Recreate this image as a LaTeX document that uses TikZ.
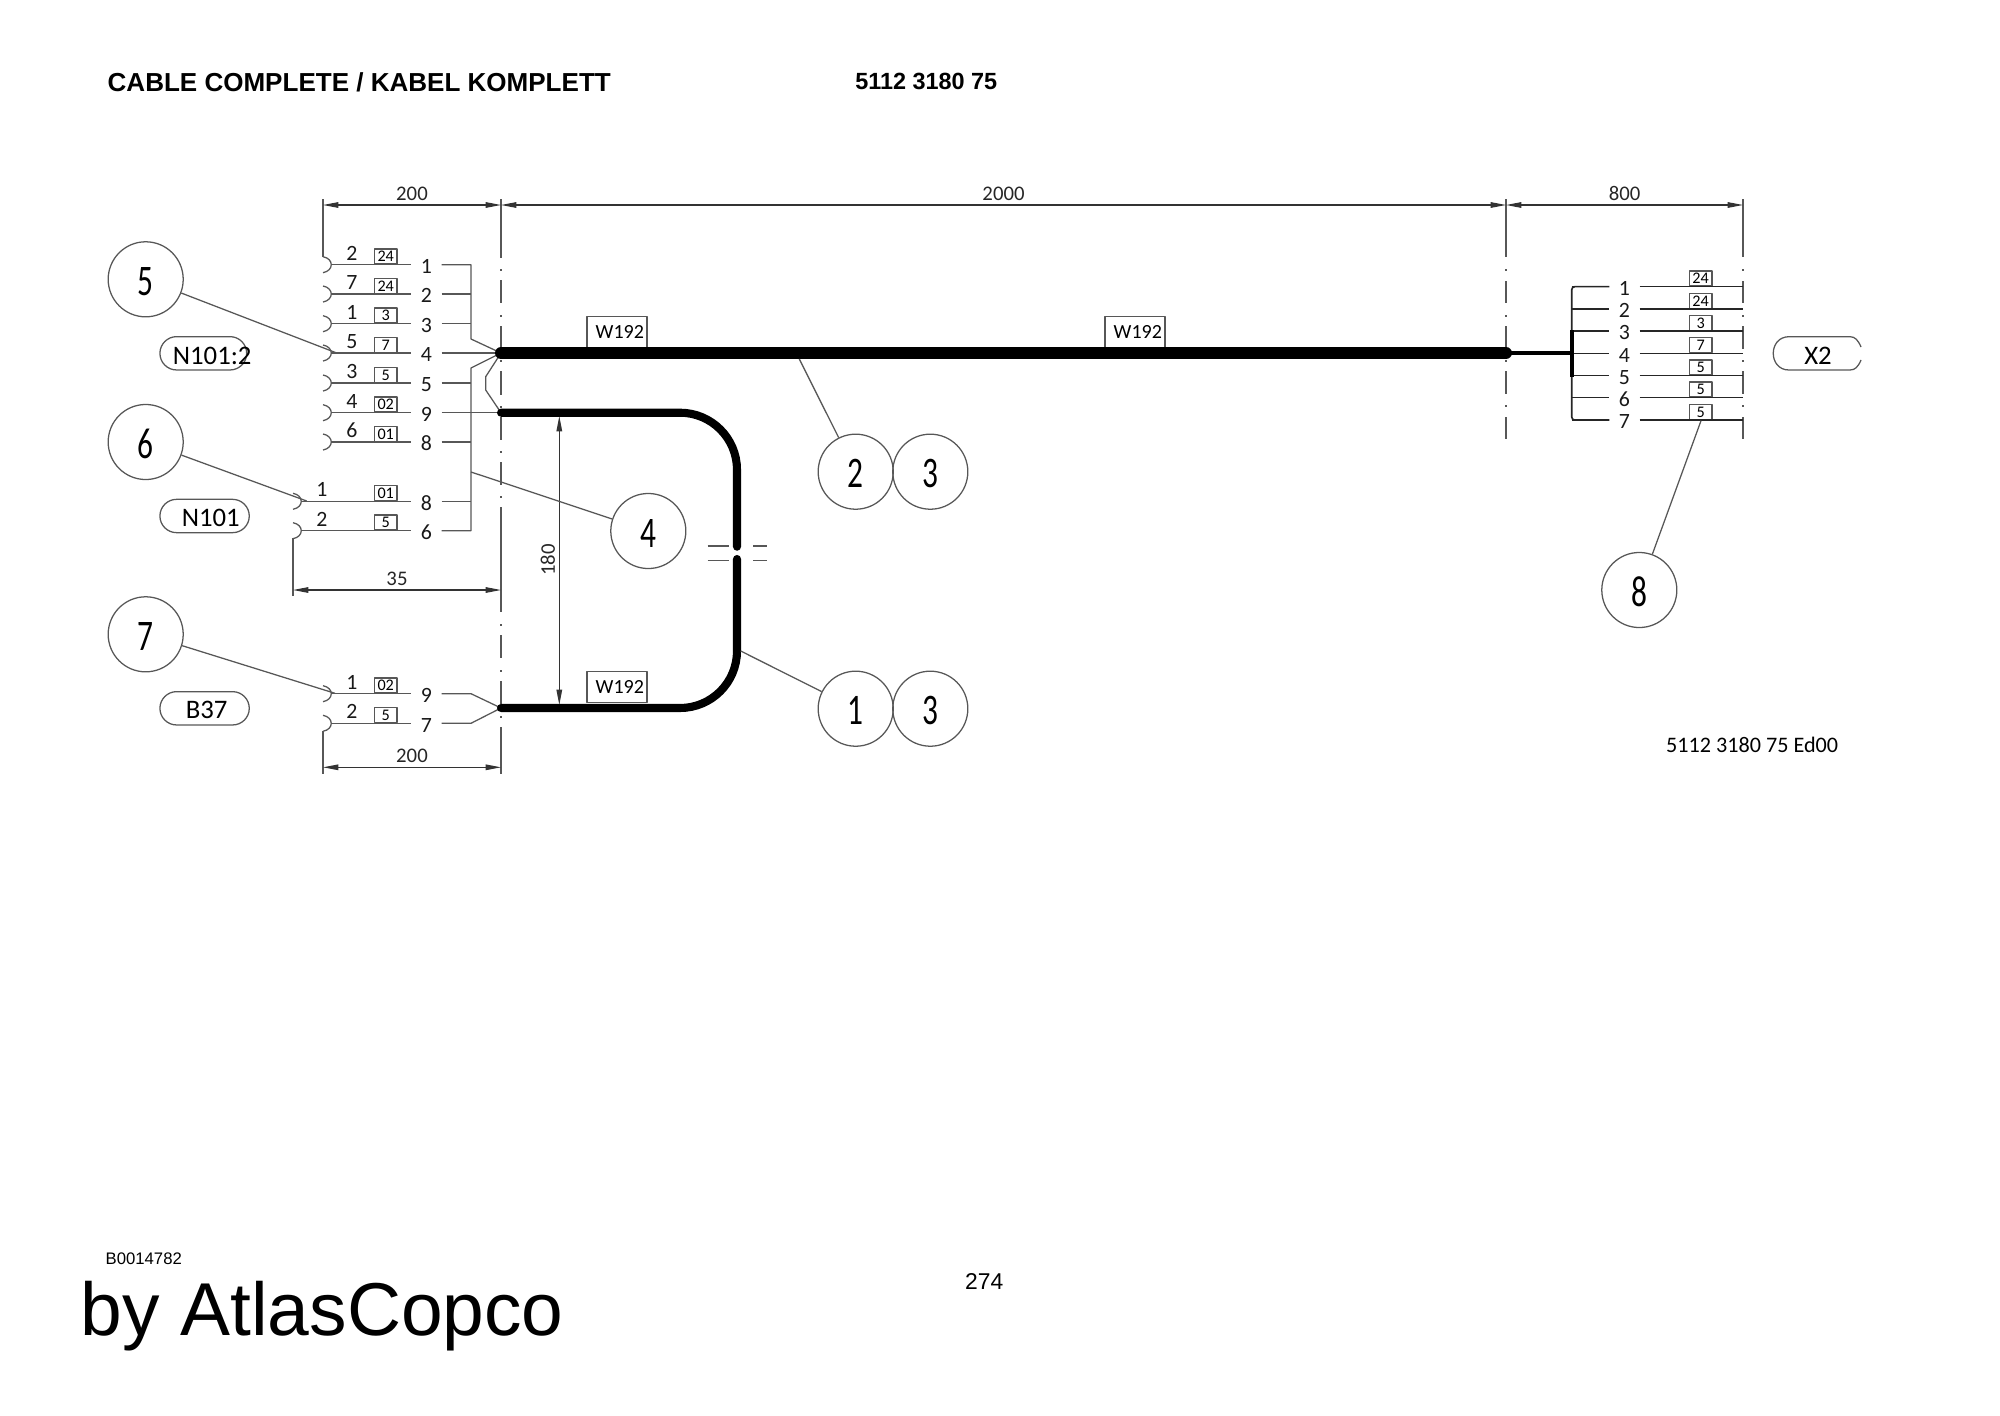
\documentclass[tikz,border=0pt]{standalone}
\usepackage{fontspec}
\setmainfont{Carlito}
\newfontfamily\arialfont{Liberation Sans}
\newfontfamily\narrowfont[FakeStretch=0.72]{Carlito}
\usetikzlibrary{arrows.meta,shapes.misc}
\colorlet{linegray}{black!66}
\tikzset{
	thinline/.style={draw=linegray, line width=0.36pt},
	rightline/.style={draw=black!85, line width=0.45pt},
	dimline/.style={draw=black!80, line width=0.3pt, {Triangle[length=4.4pt,width=1.6pt]}-{Triangle[length=4.4pt,width=1.6pt]}},
	dimtext/.style={font=\fontsize{5.9}{6}\selectfont, inner sep=0pt, text height=3.8pt, text depth=0pt, text=black!85},
	cable/.style={draw=black, line width=#1, line cap=round},
	balloon/.style={circle, thinline, minimum size=0.75cm, inner sep=0pt, text height=9.2pt, text depth=0pt, font=\narrowfont\fontsize{12.4}{12}\selectfont},
	wirenum/.style={minimum width=0.29cm, inner sep=0pt, text height=5pt, text depth=0pt, font=\fontsize{6.2}{6}\selectfont, text=black!90},
	pinnum/.style={inner sep=0pt, text height=4.3pt, text depth=0pt, font=\fontsize{6.2}{6}\selectfont, text=black!90},
	secbox/.style={rectangle, thinline, anchor=south, minimum width=0.227cm, minimum height=0.15cm, inner sep=0pt, font=\fontsize{4.6}{5}\selectfont},
	cablebox/.style={rectangle, thinline, anchor=south, minimum width=0.6cm, minimum height=0.31cm, inner sep=0pt, font=\fontsize{5.7}{6}\selectfont, execute at begin node=\hspace{1.6pt}},
	tagbox/.style={rounded rectangle, thinline, minimum height=0.333cm, inner sep=0pt},
	tagtext/.style={inner sep=0pt, text height=5pt, text depth=0pt, font=\fontsize{7.6}{8}\selectfont},
	pagetext/.style={anchor=base west, inner sep=0pt, text=black},
}
\begin{document}
\begin{tikzpicture}[x=0.01cm, y=-0.01cm, line join=round]
	\useasboundingbox (0,0) rectangle (2000,1415);
	\path
		(323,205) coordinate (DA)
		(501,205) coordinate (DB)
		(1506,205) coordinate (DC)
		(1743,205) coordinate (DD)
		(501,353) coordinate (CA)
		(1506,353) coordinate (CB)
		(1571.7,353) coordinate (CC)
		(501,412.7) coordinate (LA)
		(501,708) coordinate (LB)
		(737,412.7) coordinate (LC)
		(737,708) coordinate (LD)
		(737,546.7) coordinate (LE)
		(737,559) coordinate (LF)
	;
	% centre lines
	\foreach \ya/\yb in {199/258,280/303,326/349,371/395,417/440,462/485,507/612,635/658,681/704,727/774}
		\draw[thinline] (501,\ya)--(501,\yb);
	\foreach \ya in {269,315,360,406,451,496,624,670,716}
		\draw[thinline] (501,\ya)--(501,\ya+1.5);
	\foreach \xa in {1506,1743} {
		\foreach \ya/\yb in {199/257,281/303,326/349,371/394,417/439}
			\draw[thinline] (\xa,\ya)--(\xa,\yb);
		\foreach \ya in {269,315,360,405}
			\draw[thinline] (\xa,\ya)--(\xa,\ya+1.5);
	}
	% dimensions
	\draw[thinline] (DA)++(0,-6)--(323,257);
	\draw[thinline] (293,538)--(293,596);
	\draw[thinline] (323,731)--(323,774);
	\draw[dimline] (DA)--(DB) node[midway, above=1.1pt, dimtext] (dim200a) {200};
	\draw[dimline] (DB)--(DC) node[midway, above=1.1pt, dimtext] (dim2000) {2000};
	\draw[dimline] (DC)--(DD) node[midway, above=1.1pt, dimtext] (dim800) {800};
	\draw[dimline] (293,590)--(501,590) node[midway, above=1.1pt, dimtext] (dim35) {35};
	\draw[dimline] (323,767.3)--(501,767.3) node[midway, above=1.1pt, dimtext] (dim200b) {200};
	\draw[dimline] (559.3,416)--(559.3,705);
	\node[dimtext, rotate=90] (dim180) at (548.3,560) {180};
	% connector N101:2
	\foreach \y/\pn/\bx/\nn in {264.7/2/24/1, 294/7/24/2, 323.7/1/3/3, 353/5/7/4, 383/3/5/5, 412.7/4/02/9, 442/6/01/8} {
		\draw[thinline] (323,\y-8) .. controls (334,\y-6) and (334,\y+6) .. (323,\y+8);
		\coordinate (pa\nn) at (331,\y);
		\node[wirenum] (na\nn) at (426.5,\y) {\nn};
		\node[pinnum] at (352,\y-12) {\pn};
		\node[secbox] (sa\nn) at (385.7,\y) {\bx};
		\draw[thinline] (pa\nn)--(na\nn);
	}
	% connector N101
	\foreach \y/\pn/\bx/\nn in {501.3/1/01/8, 530.7/2/5/6} {
		\draw[thinline] (293,\y-8) .. controls (304,\y-6) and (304,\y+6) .. (293,\y+8);
		\coordinate (pb\nn) at (301,\y);
		\node[wirenum] (nb\nn) at (426.5,\y) {\nn};
		\node[pinnum] at (322,\y-12) {\pn};
		\node[secbox] (sb\nn) at (385.7,\y) {\bx};
		\draw[thinline] (pb\nn)--(nb\nn);
	}
	% connector B37
	\foreach \y/\pn/\bx/\nn in {693.7/1/02/9, 723.3/2/5/7} {
		\draw[thinline] (323,\y-8) .. controls (334,\y-6) and (334,\y+6) .. (323,\y+8);
		\coordinate (pc\nn) at (331,\y);
		\node[wirenum] (nc\nn) at (426.5,\y) {\nn};
		\node[pinnum] at (352,\y-12) {\pn};
		\node[secbox] (sc\nn) at (385.7,\y) {\bx};
		\draw[thinline] (pc\nn)--(nc\nn);
	}
	% wire bundles
	\draw[thinline] (na1.east)-|(471,339)--(CA);
	\draw[thinline] (na2.east)--(471,294) (na3.east)--(471,323.7) (na4.east)--(CA);
	\draw[thinline] (CA)--(471,368)--(471,530.7)--(nb6.east);
	\draw[thinline] (na5.east)--(471,383) (na8.east)--(471,442) (nb8.east)--(471,501.3);
	\draw[thinline] (na9.east)--(LA);
	\draw[thinline] (CA)--(485.7,376.7)--(485.7,390)--(LA);
	\draw[thinline] (nc9.east)--(471,693.7)--(LB)--(471,723.3)--(nc7.east);
	% right connector X2
	\foreach \y/\nn/\bx in {286.7/1/24, 309/2/24, 331/3/3, 353.3/4/7, 375.7/5/5, 397.7/6/5, 420/7/5} {
		\node[wirenum] (nd\nn) at (1624.5,\y) {\nn};
		\node[secbox] (sd\nn) at (1700.6,\y) {\bx};
		\coordinate (pd\nn) at (1743,\y);
		\draw[rightline] (nd\nn.east)--(pd\nn);
		\draw[rightline] (1571.7,\y)--(nd\nn.west);
	}
	\draw[rightline, rounded corners=0.03cm] (nd1.west)-|(1571.7,420)--(nd7.west);
	\draw[cable=1.2pt, line cap=butt] (1571.7,330)--(1571.7,376.7);
	\draw[cable=1.3pt, line cap=butt] (CB)--(CC);
	% cables
	\node[cablebox] (wa) at (617,348) {W192};
	\node[cablebox] (wb) at (1135,348) {W192};
	\node[cablebox] (wc) at (617,703) {W192};
	\draw[cable=3.4pt] (CA)--(CB);
	\draw[cable=2.3pt, rounded corners=0.57cm] (LA)--(LC)--(LE);
	\draw[cable=2.3pt, rounded corners=0.57cm] (LF)--(LD)--(LB);
	\draw[thinline] (707.7,546)--(729,546) (753,546)--(767,546);
	\draw[thinline] (707.7,560.7)--(729,560.7) (753,560.7)--(767,560.7);
	% balloons
	\node[balloon] (b5) at (145.7,279.3) {5};
	\node[balloon] (b6) at (145.7,442) {6};
	\node[balloon] (b7) at (145.7,634.3) {7};
	\node[balloon] (b4) at (648.3,531) {4};
	\node[balloon] (b2) at (855.7,471.7) {2};
	\node[balloon] (b3a) at (930.3,471.7) {3};
	\node[balloon] (b1) at (855.7,708.7) {1};
	\node[balloon] (b3b) at (930.3,708.7) {3};
	\node[balloon] (b8) at (1639.3,590) {8};
	\path
		(336.7,353) coordinate (t5)
		(306.7,501) coordinate (t6)
		(335,693.3) coordinate (t7)
		(471,472) coordinate (t4)
		(799.3,359) coordinate (t2)
		(740.7,651) coordinate (t1)
		(1701,420.7) coordinate (t8)
	;
	\foreach \nn in {5,6,7,4,2,1,8}
		\draw[thinline] (b\nn)--(t\nn);
	% tags
	\node[tagbox, minimum width=0.867cm] (tagA) at (203.3,353.3) {};
	\node[tagtext] (txtA) at (212.2,356) {N101:2};
	\node[tagbox, minimum width=0.893cm] (tagB) at (204.6,516) {};
	\node[tagtext] (txtB) at (210.7,517.5) {N101};
	\node[tagbox, minimum width=0.893cm] (tagC) at (204.6,708.3) {};
	\node[tagtext] (txtC) at (206.7,709.5) {B37};
	\draw[thinline] (1861,347) .. controls (1858,340) and (1855,336.7) .. (1850,336.7)--(1789,336.7) .. controls (1768,336.7) and (1768,370) .. (1789,370)--(1850,370) .. controls (1855,370) and (1858,367) .. (1861,360);
	\node[tagtext] (txtD) at (1818,355.5) {X2};
	% page texts
	\node[pagetext, font=\arialfont\bfseries\fontsize{7.4}{8}\selectfont] (title) at (107,91) {CABLE COMPLETE / KABEL KOMPLETT};
	\node[pagetext, font=\arialfont\bfseries\fontsize{6.66}{8}\selectfont] (partno) at (854.6,89.3) {5112 3180 75};
	\node[pagetext, font=\fontsize{6.3}{7}\selectfont] (edition) at (1665.5,752.7) {5112 3180 75 Ed00};
	\node[pagetext, font=\arialfont\fontsize{4.75}{5}\selectfont] (docno) at (105,1264) {B0014782};
	\node[pagetext, font=\arialfont\fontsize{21.3}{22}\selectfont] (owner) at (80,1335) {by AtlasCopco};
	\node[pagetext, font=\arialfont\fontsize{6.5}{7}\selectfont] (pageno) at (964.5,1289) {274};
\end{tikzpicture}
\end{document}
